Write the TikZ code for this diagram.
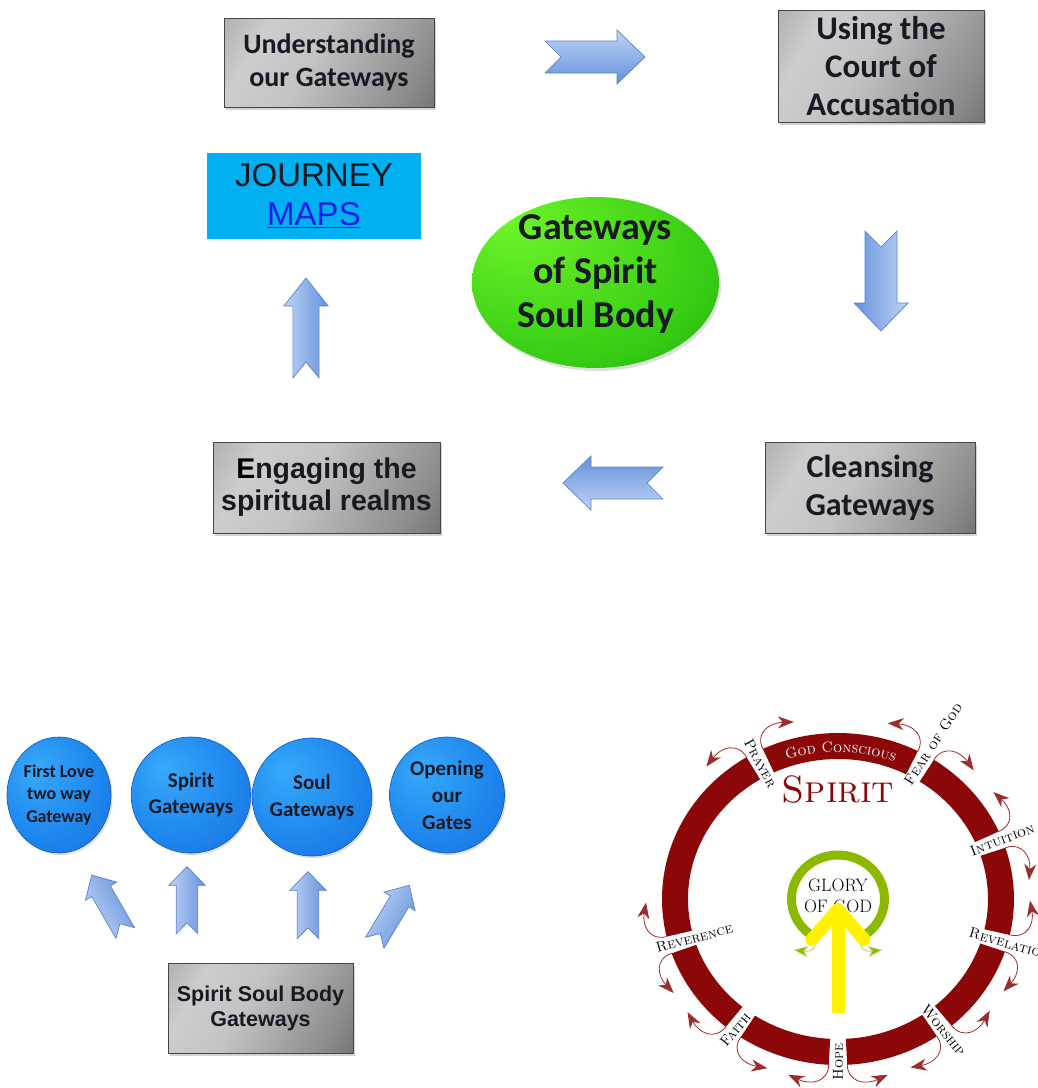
\documentclass[tikz,border=0pt]{standalone}
\usepackage{fontspec}
\usepackage{tikz}
\usetikzlibrary{arrows.meta,shapes.geometric,shadows,decorations.text}

\newfontfamily\calibri{Carlito}
\newfontfamily\arial{Liberation Sans}

\definecolor{boxlight}{RGB}{205,205,205}
\definecolor{boxmid}{RGB}{140,140,140}
\definecolor{boxdark}{RGB}{80,80,80}
\definecolor{boxedge}{RGB}{70,70,70}
\definecolor{flowlight}{RGB}{190,212,245}
\definecolor{flowdark}{RGB}{100,145,220}
\definecolor{flowedge}{RGB}{90,130,205}
\definecolor{mapcyan}{RGB}{0,176,240}
\definecolor{linkblue}{RGB}{30,30,230}
\definecolor{discin}{RGB}{55,170,250}
\definecolor{discmid}{RGB}{30,135,238}
\definecolor{discout}{RGB}{15,85,200}
\definecolor{hubin}{RGB}{110,245,40}
\definecolor{hubmid}{RGB}{55,205,20}
\definecolor{hubout}{RGB}{0,130,0}
\definecolor{ringred}{RGB}{140,8,8}
\definecolor{glorygreen}{RGB}{140,185,0}
\definecolor{inkgray}{RGB}{25,25,35}

\pgfdeclarehorizontalshading{metal}{100bp}{color(0bp)=(boxmid); color(28bp)=(boxlight); color(45bp)=(boxlight!85!boxmid); color(75bp)=(boxmid); color(100bp)=(boxdark)}
\pgfdeclareradialshading{disc}{\pgfpoint{-12bp}{12bp}}{color(0bp)=(discin); color(25bp)=(discmid); color(62bp)=(discout)}
\pgfdeclareradialshading{hubshade}{\pgfpoint{-18bp}{18bp}}{color(0bp)=(hubin); color(32bp)=(hubmid); color(64bp)=(hubout)}

\tikzset{
  pics/flowarrow/.style={code={
    \shade[draw=flowedge, line width=0.7pt, top color=flowlight, bottom color=flowdark, shading angle=#1]
      (-50,16) -- (22,16) -- (22,27) -- (50,0) -- (22,-27) -- (22,-16) -- (-50,-16) -- (-34,0) -- cycle;
  }}
}

\begin{document}
\begin{tikzpicture}[x=1pt, y=-1pt,
    gatebox/.style={draw=boxedge, line width=0.8pt, shade, shading=metal, shading angle=-30,
      align=center, text=inkgray, inner sep=0pt,
      drop shadow={opacity=0.35, shadow xshift=2pt, shadow yshift=-3pt}},
    mapbox/.style={fill=mapcyan, align=center, text=inkgray, inner sep=0pt},
    hub/.style={ellipse, shade, shading=hubshade, inner sep=0pt,
      drop shadow={opacity=0.25, shadow xshift=2pt, shadow yshift=-3pt}},
    disc/.style={ellipse, draw=discout, line width=0.6pt, shade, shading=disc, align=center,
      text=inkgray, inner sep=0pt, drop shadow={opacity=0.25, shadow xshift=1.5pt, shadow yshift=-2pt}},
    gatearrow/.style={draw=ringred!85, line width=0.8pt, -{Stealth[length=16pt, width=12pt, inset=5pt]}},
    glowarrow/.style={draw=glorygreen!70, line width=0.8pt, -{Stealth[length=14pt, width=11pt, inset=4pt, fill=glorygreen]}},
    gatelabel/.style={font=\fontsize{14.5}{14.5}\selectfont\scshape, text=black, inner sep=1pt},
    beam/.style={draw=yellow, line width=13pt, -{Straight Barb[length=30pt, width=52pt, round]}}]

  \clip (0,0) rectangle (1038,1088);

  % journey cycle
  \node[gatebox, minimum width=210pt, minimum height=89pt, font=\calibri\bfseries\fontsize{28}{33}\selectfont]
    (understand) at (329,62.5) {Understanding\\our Gateways};
  \node[gatebox, minimum width=206pt, minimum height=112pt, font=\calibri\bfseries\fontsize{33}{38}\selectfont]
    (court) at (881,66) {Using the\\Court of\\Accusation};
  \node[gatebox, minimum width=210pt, minimum height=91pt, font=\calibri\bfseries\fontsize{32}{38}\selectfont]
    (cleansing) at (870,487.5) {Cleansing\\Gateways};
  \node[gatebox, minimum width=227pt, minimum height=91pt, font=\arial\bfseries\fontsize{28.5}{32}\selectfont]
    (engaging) at (326.5,487.5) {{\color{black}E}ngaging the\\spiritual realms};
  \node[mapbox, minimum width=214pt, minimum height=86pt, font=\arial\fontsize{33}{39}\selectfont]
    (maps) at (314,196) {JOURNEY\\{\color{linkblue}\underline{MAPS}}};
  \node[hub, minimum width=247pt, minimum height=171pt] (hub) at (595.5,282.5) {};
  \node[align=center, text=inkgray, font=\calibri\bfseries\fontsize{38}{44}\selectfont]
    (hubtext) at (595.5,274) {Gateways\\of Spirit\\Soul Body};

  \pic (toright) at (595,57) {flowarrow=0};
  \pic[rotate=-90] (todown) at (881,281) {flowarrow=-90};
  \pic[rotate=180] (toleft) at (613,483) {flowarrow=180};
  \pic[rotate=90, yscale=0.82] (toup) at (306,328) {flowarrow=90};

  % gateway groups
  \node[gatebox, minimum width=185pt, minimum height=90pt, font=\arial\bfseries\fontsize{21.5}{25}\selectfont]
    (ssb) at (260.5,1008) {Spirit Soul Body\\Gateways};
  \node[disc, minimum width=104pt, minimum height=116pt, font=\calibri\bfseries\fontsize{18}{22.5}\selectfont]
    (firstlove) at (59,795) {First Love\\two way\\Gateway};
  \node[disc, minimum width=116pt, minimum height=116pt, font=\calibri\bfseries\fontsize{21}{26}\selectfont]
    (spiritgw) at (191,795) {Spirit\\Gateways};
  \node[disc, minimum width=107pt, minimum height=118pt, font=\calibri\bfseries\fontsize{21}{27}\selectfont]
    (soulgw) at (312,797) {Soul\\Gateways};
  \node[disc, minimum width=115pt, minimum height=116pt, font=\calibri\bfseries\fontsize{21}{27}\selectfont]
    (opening) at (447,795) {Opening\\our\\Gates};

  \pic[rotate=120, scale=0.67] (tofirst) at (108.5,904) {flowarrow=120};
  \pic[rotate=90, scale=0.67] (tospirit) at (187,900) {flowarrow=90};
  \pic[rotate=90, scale=0.67] (tosoul) at (308,905) {flowarrow=90};
  \pic[rotate=59, scale=0.67] (toopen) at (392,914) {flowarrow=59};

  % spirit wheel
  \begin{scope}[shift={(838,899)}, x=1pt, y=1pt]
    \foreach \a/\b in {-160.9/-129.6, -123.6/-93, -87/-55.8, -49.8/-18.5, -12.5/18, 24/57, 63/115.3, 121.3/193.1}
      \fill[ringred] (\a:176 and 166) arc[start angle=\a, end angle=\b, x radius=176, y radius=166]
        -- (\b:150 and 140) arc[start angle=\b, end angle=\a, x radius=150, y radius=140] -- cycle;

    \foreach \g in {196.1,233.4,270,307.2,344.5,21,60,118.3}
      \foreach \s in {1,-1}
        \draw[gatearrow] ({\g+\s*3}:176 and 166) .. controls ({\g+\s*3}:194 and 184)
          and ({\g+\s*8}:198 and 188) .. ({\g+\s*15}:192 and 182);

    \foreach \n/\g/\k/\rot/\txt in {prayer/118.3/0.93/-61.7/Prayer, fear/60/1.08/57/Fear of God,
        intuition/21/1.0/21/Intuition, revelation/-15.5/1.01/-16/Revelation, worship/-52.8/0.99/-51/Worship,
        hope/-90/0.98/90/Hope, faith/-126.6/0.98/50/Faith, reverence/196.1/0.85/15/Reverence}
      \node[gatelabel, rotate=\rot] (\n) at (\g:{\k*176} and {\k*166}) {\txt};

    \path[decorate, decoration={text along path, text={|\fontsize{14.5}{14.5}\selectfont\scshape|God Conscious},
        text align=center, text color=white}]
      (112:158 and 147) arc[start angle=112, end angle=66, x radius=158, y radius=147];

    \node[text=ringred, font=\fontsize{38}{42}\selectfont\scshape] (spirit) at (0,109) {Spirit};

    \draw[glorygreen, line width=9pt] (-60:46.5 and 44) arc[start angle=-60, end angle=240, x radius=46.5, y radius=44];
    \draw[glowarrow] (240:46.5 and 44) .. controls (-21,-50) and (-26,-53) .. (-44,-51);
    \draw[glowarrow] (-60:46.5 and 44) .. controls (21,-50) and (26,-53) .. (44,-51);

    \node[align=center, text=black, font=\fontsize{18}{21}\selectfont] (glory) at (0,3) {GLORY\\OF GOD};
    \coordinate (beamfoot) at (0,-114);
    \coordinate (beamtip) at (0,-4);
    \draw[beam] (beamfoot) -- (beamtip);
  \end{scope}

\end{tikzpicture}
\end{document}
